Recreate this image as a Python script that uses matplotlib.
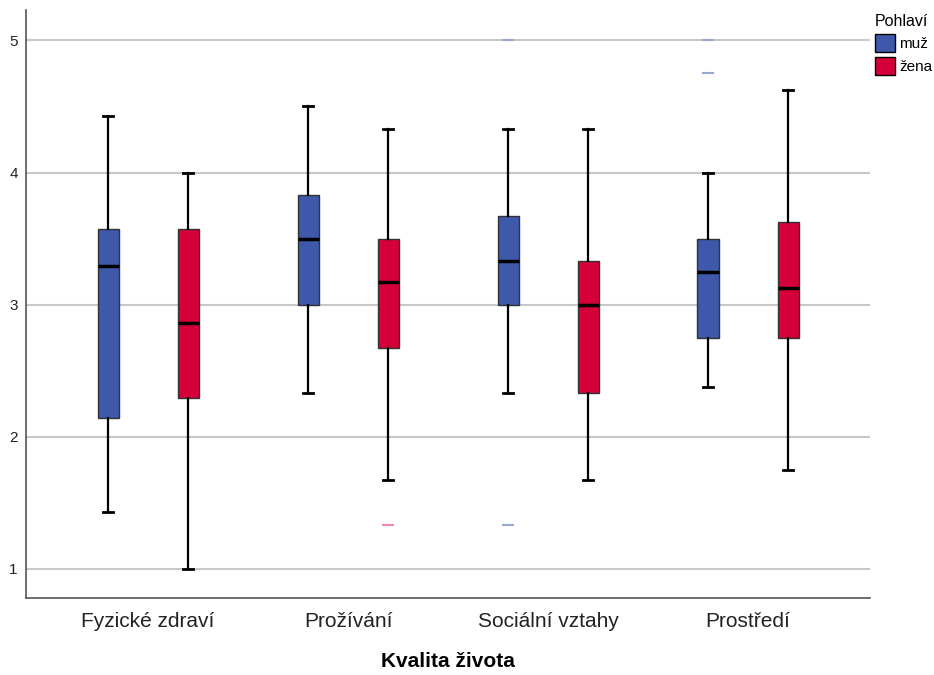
import matplotlib.pyplot as plt
from matplotlib.patches import Patch
import numpy as np

plt.rcParams['font.family'] = ['Liberation Sans', 'DejaVu Sans']

categories = ["Fyzické zdraví", "Prožívání", "Sociální vztahy", "Prostředí"]
groups = ["muž", "žena"]
colors = {"muž": "#3e58ac", "žena": "#d5003a"}
flier_colors = {"muž": "#9aa6d6", "žena": "#f08aa2"}

# per category: (whisker low, Q1, median, Q3, whisker high)
stats_muz = [
    (1.43, 2.14, 3.29, 3.57, 4.43),
    (2.33, 3.00, 3.50, 3.83, 4.50),
    (2.33, 3.00, 3.33, 3.67, 4.33),
    (2.375, 2.75, 3.25, 3.50, 4.00),
]
stats_zena = [
    (1.00, 2.29, 2.86, 3.57, 4.00),
    (1.67, 2.67, 3.17, 3.50, 4.33),
    (1.67, 2.33, 3.00, 3.33, 4.33),
    (1.75, 2.75, 3.125, 3.625, 4.625),
]
outliers_muz = [[], [], [5.0, 1.33], [5.0, 4.75]]
outliers_zena = [[], [1.33], [], []]

fig = plt.figure(figsize=(9.34, 6.75), dpi=100)
ax = fig.add_axes([26/934, 77/675, 844/934, 588/675])

def make_stats(rows, fl):
    out = []
    for (lo, q1, med, q3, hi), f in zip(rows, fl):
        out.append({"whislo": lo, "q1": q1, "med": med, "q3": q3, "whishi": hi, "fliers": f})
    return out

x = np.arange(len(categories))
for g, rows, fl, off in [("muž", stats_muz, outliers_muz, -0.2), ("žena", stats_zena, outliers_zena, 0.2)]:
    bp = ax.bxp(make_stats(rows, fl), positions=x + off, widths=0.105,
                patch_artist=True, showfliers=True,
                boxprops=dict(facecolor=colors[g], edgecolor="#333333", linewidth=1.0),
                medianprops=dict(color="black", linewidth=2.5),
                whiskerprops=dict(color="black", linewidth=1.6),
                capprops=dict(color="black", linewidth=2.0),
                capwidths=0.05,
                flierprops=dict(marker="_", markersize=8, markeredgewidth=1.5,
                                markeredgecolor=flier_colors[g], linestyle="none"))
    for c in bp["caps"]:
        c.set_zorder(3)

ax.set_xlim(-0.61, 3.61)
ax.set_ylim(0.78, 5.23)
ax.set_yticks([1, 2, 3, 4, 5])
ax.set_yticklabels(["1", "2", "3", "4", "5"], fontsize=11, color="#222222")
ax.set_xticks(x)
ax.set_xticklabels(categories, fontsize=15, color="#222222")
ax.tick_params(axis="x", length=0, pad=10)
ax.tick_params(axis="y", length=0, pad=6)
ax.grid(axis="y", color="#c8c8c8", linewidth=1.5)
ax.set_axisbelow(True)
for s in ["top", "right"]:
    ax.spines[s].set_visible(False)
for s in ["left", "bottom"]:
    ax.spines[s].set_color("#555555")
    ax.spines[s].set_linewidth(1.2)

ax.set_xlabel("Kvalita života", fontsize=15, fontweight="bold", labelpad=15)

handles = [Patch(facecolor=colors[g], edgecolor="black", label=g) for g in groups]
fig.legend(handles=handles, title="Pohlaví", loc="upper left",
           bbox_to_anchor=(864/934, 0.995), frameon=False, fontsize=11,
           title_fontsize=11.5, handlelength=1.3, handleheight=1.4,
           handletextpad=0.3, labelspacing=0.35, alignment="left", borderpad=0.2)

fig.savefig("out.png", dpi=100)
